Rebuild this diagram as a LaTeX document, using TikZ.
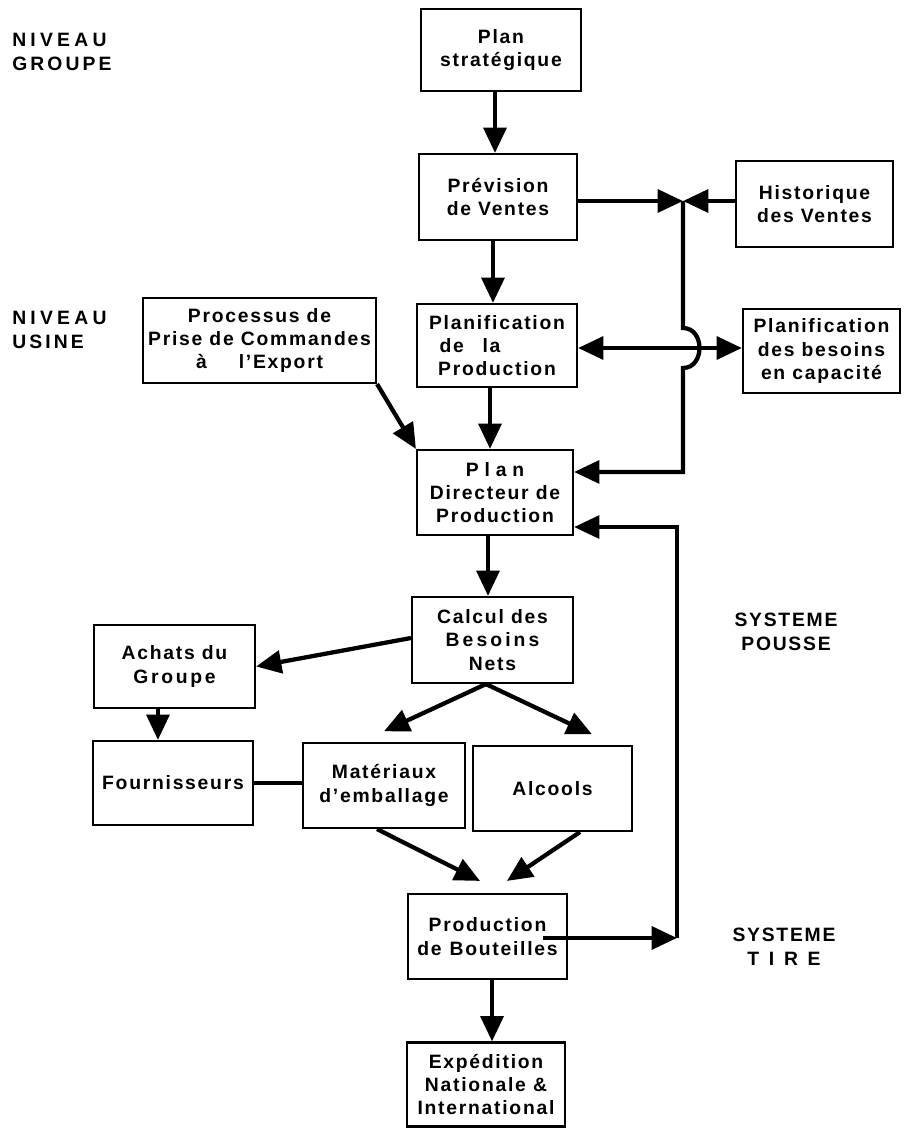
\documentclass[tikz,border=0pt]{standalone}
\usepackage{fontspec}
\setmainfont{Liberation Sans}[LetterSpace=9]
\usetikzlibrary{arrows.meta,calc}
\newcommand{\wide}[2]{{\addfontfeature{LetterSpace=#1}#2}}
\begin{document}
\begin{tikzpicture}[x=0.75pt,y=-0.75pt,
  box/.style={draw, line width=1.6pt, inner sep=0pt, align=center,
    font=\bfseries\fontsize{14.5}{17.5}\selectfont},
  lbl/.style={inner sep=0pt, font=\bfseries\fontsize{14.5}{18}\selectfont},
  conn/.style={line width=3.2pt},
  arr/.style={conn, -{Triangle[length=19pt,width=17pt]}},
  dblarr/.style={conn, {Triangle[length=19pt,width=17pt]}-{Triangle[length=19pt,width=17pt]}},
]
\useasboundingbox (0,0) rectangle (908,1128);

% labels
\node[lbl, anchor=west, align=left] (ng) at (12,52) {\wide{22}{NIVEAU}\\\wide{16}{GROUPE}};
\node[lbl, anchor=west, align=left] (nu) at (12,330) {\wide{22}{NIVEAU}\\\wide{16}{USINE}};
\node[lbl, align=center] (sp) at (786,632) {SYSTEME\\POUSSE};
\node[lbl, align=center] (st) at (784,947) {SYSTEME\\\wide{50}{TIRE}};

% boxes
\node[box, minimum width=120pt, minimum height=61.5pt] (plan) at (501,50) {Plan\\stratégique};
\node[box, minimum width=118.5pt, minimum height=64.5pt] (prev) at (498,197) {Prévision\\de Ventes};
\node[box, minimum width=117.75pt, minimum height=64.5pt] (hist) at (814.5,204) {Historique\\des Ventes};
\node[box, minimum width=120pt, minimum height=62.25pt] (planif) at (497,345.5) {Planification\\\makebox[104pt][l]{\hspace{9pt}de\hspace{14pt}la}\\Production};
\node[box, minimum width=117.75pt, minimum height=63pt] (besoins) at (821.5,351) {Planification\\des besoins\\en capacité};
\node[box, minimum width=174.75pt, minimum height=63.75pt] (proc) at (259.5,340.5) {Processus de\\Prise de Commandes\\à\hspace{24pt}l'Export};
\node[box, minimum width=117pt, minimum height=63.75pt] (pdp) at (495,492.5) {\wide{30}{Plan}\\Directeur de\\Production};
\node[box, minimum width=120.75pt, minimum height=64.5pt] (calcul) at (492.5,640) {Calcul des\\\wide{16}{Besoins}\\Nets};
\node[box, minimum width=120.75pt, minimum height=62.25pt] (achats) at (174.5,666.5) {Achats du\\\wide{14}{Groupe}};
\node[box, minimum width=120pt, minimum height=63pt] (fourn) at (173,783) {Fournisseurs};
\node[box, minimum width=121.5pt, minimum height=63.75pt] (mat) at (384,785.5) {Matériaux\\d'emballage};
\node[box, minimum width=119.25pt, minimum height=63.75pt] (alc) at (552.5,788.5) {Alcools};
\node[box, minimum width=119.25pt, minimum height=63.75pt] (prod) at (487.5,936.5) {Production\\de\hspace{6pt}Bouteilles};
\node[box, minimum width=118.5pt, minimum height=63pt] (exp) at (486,1084.5) {Expédition\\Nationale \&\\International};

% coordinates
\coordinate (J) at (683,201);
\coordinate (B1) at (683,328);
\coordinate (B2) at (683,368);
\coordinate (H) at (620,348);
\coordinate (P1) at ([yshift=15.4pt]pdp.east);
\coordinate (P2) at ([yshift=-25.9pt]pdp.east);
\coordinate (S) at ([xshift=41.6pt,yshift=-1.1pt]prod.center);
\coordinate (C) at (677,938);

% connectors
\draw[arr] ([xshift=-4.5pt]plan.south) -- ([xshift=-4.5pt]plan.south |- prev.north);
\draw[arr] ([xshift=-3.75pt]prev.south) -- ([xshift=-3.75pt]prev.south |- planif.north);
\draw[arr] (prev.east |- J) -- (J);
\draw[arr] (hist.west |- J) -- (J);
\draw[arr] (J) -- (B1) .. controls ($(B1)+(22,0)$) and ($(B2)+(22,0)$) .. (B2) -- (B2 |- P1) -- (P1);
\draw[dblarr] (planif.east |- H) -- (besoins.west |- H);
\draw[arr] (proc.south east) -- (pdp.north west);
\draw[arr] ([xshift=-5.25pt]planif.south) -- ([xshift=-5.25pt]planif.south |- pdp.north);
\draw[arr] ([xshift=-5.25pt]pdp.south) -- ([xshift=-5.25pt]pdp.south |- calcul.north);
\draw[arr] ([yshift=1.5pt]calcul.west) -- (achats.east);
\draw[arr] ([xshift=-12.4pt]achats.south) -- ([xshift=-12.4pt]achats.south |- fourn.north);
\draw[conn] (fourn.east) -- (fourn.east -| mat.west);
\draw[arr] ([xshift=-4.9pt]calcul.south) -- ([yshift=8pt]mat.north);
\draw[arr] ([xshift=-4.9pt]calcul.south) -- ([xshift=29.6pt,yshift=8pt]alc.north);
\draw[arr] ([xshift=-5.25pt]mat.south) -- ([xshift=-5.6pt,yshift=9pt]prod.north);
\draw[arr] ([xshift=20.6pt]alc.south) -- ([xshift=14.6pt,yshift=9pt]prod.north);
\draw[arr] (S) -- (S -| C);
\draw[arr] (S -| C) -- (C |- P2) -- (P2);
\draw[arr] ([xshift=3.4pt]prod.south) -- ([xshift=3.4pt]prod.south |- exp.north);
\end{tikzpicture}
\end{document}
